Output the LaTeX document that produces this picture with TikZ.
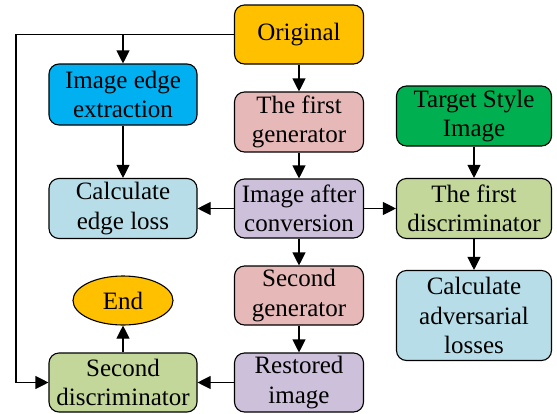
\documentclass[tikz,border=0pt]{standalone}
\usepackage{fontspec}
\setmainfont{Liberation Serif}
\usetikzlibrary{arrows.meta,shapes.geometric}
\definecolor{corange}{HTML}{FFC000}
\definecolor{cblue}{HTML}{00B0F0}
\definecolor{cpink}{HTML}{E6B8B7}
\definecolor{cgreen}{HTML}{00B050}
\definecolor{clblue}{HTML}{B7DEE8}
\definecolor{clav}{HTML}{CCC0DA}
\definecolor{colive}{HTML}{C4D79B}
\tikzset{
  box/.style={draw, line width=1.1pt, rounded corners=10pt, align=center, inner sep=0pt,
    font=\fontsize{25}{29.5}\selectfont},
  conn/.style={line width=1.1pt, -{Triangle[length=13pt,width=13pt]}}
}
\begin{document}
\begin{tikzpicture}[x=1pt,y=-1pt]
\useasboundingbox (0,0) rectangle (557,413);
\node[box, fill=corange, minimum width=129pt, minimum height=59pt] (orig) at (299,34.5) {Original};
\node[box, fill=cblue, minimum width=148pt, minimum height=61pt] (iee) at (123,94.5) {Image edge\\extraction};
\node[box, fill=cpink, minimum width=129pt, minimum height=60pt] (g1) at (299,122) {The first\\generator};
\node[box, fill=cgreen, minimum width=155pt, minimum height=60pt] (tsi) at (474,116) {Target Style\\Image};
\node[box, fill=clblue, minimum width=148pt, minimum height=60pt] (cel) at (123,208.5) {Calculate\\edge loss};
\node[box, fill=clav, minimum width=129pt, minimum height=59pt] (iac) at (299,208.5) {Image after\\conversion};
\node[box, fill=colive, minimum width=155pt, minimum height=60pt] (d1) at (474,208.5) {The first\\discriminator};
\node[box, fill=cpink, minimum width=129pt, minimum height=59pt] (g2) at (299,295.5) {Second\\generator};
\node[box, fill=clblue, minimum width=155pt, minimum height=90pt] (cal) at (474,315.5) {Calculate\\adversarial\\losses};
\node[draw, line width=1.1pt, ellipse, fill=corange, minimum width=100pt, minimum height=49pt, inner sep=0pt,
  font=\fontsize{25}{29.5}\selectfont] (end) at (123,300.5) {End};
\node[box, fill=colive, minimum width=148pt, minimum height=59pt] (d2) at (123,382.5) {Second\\discriminator};
\node[box, fill=clav, minimum width=129pt, minimum height=59pt] (ri) at (299,382.5) {Restored\\image};
\coordinate (c1) at (16,34.5);
\coordinate (c2) at (16,382.5);
\coordinate (br) at (123,34.5);
\draw[conn] (orig.west) -- (c1) -- (c2) -- (d2.west);
\draw[conn] (br) -- (iee.north);
\draw[conn] (orig) -- (g1);
\draw[conn] (g1) -- (iac);
\draw[conn] (iee) -- (cel);
\draw[conn] (iac) -- (cel);
\draw[conn] (iac) -- (d1);
\draw[conn] (tsi) -- (d1);
\draw[conn] (d1) -- (cal);
\draw[conn] (iac) -- (g2);
\draw[conn] (g2) -- (ri);
\draw[conn] (ri) -- (d2);
\draw[conn] (d2) -- (end);
\end{tikzpicture}
\end{document}
